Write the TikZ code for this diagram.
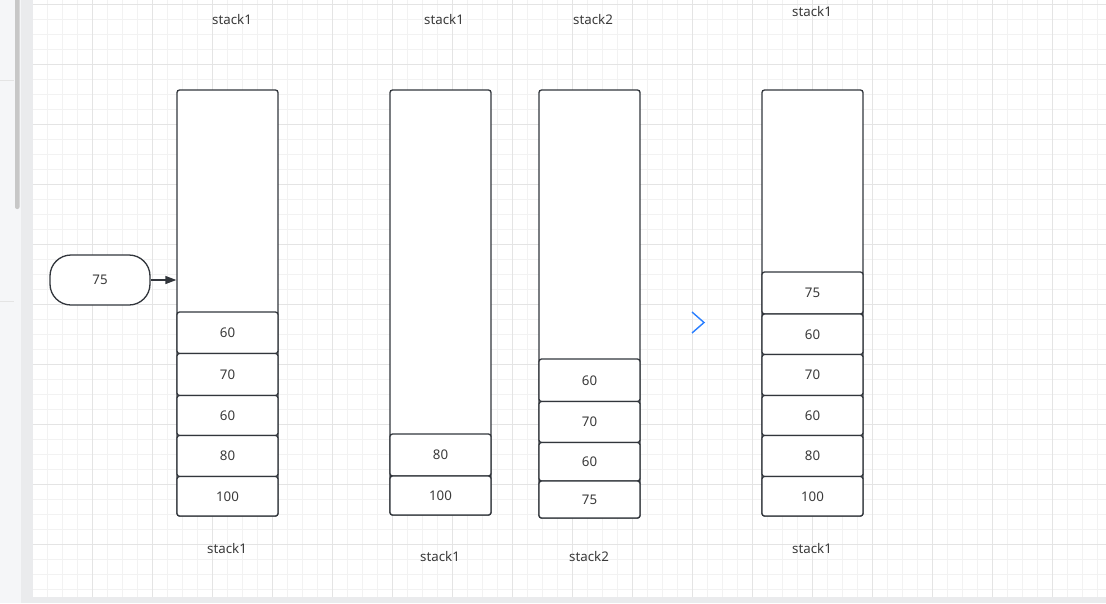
\documentclass[tikz,border=0pt]{standalone}
\usepackage{fontspec}
\setmainfont{Noto Sans}
\usetikzlibrary{arrows.meta}
\definecolor{ink}{HTML}{32363C}
\definecolor{txt}{HTML}{3A3A3A}
\definecolor{gridminor}{HTML}{F2F2F2}
\definecolor{gridmajor}{HTML}{E4E4E4}
\definecolor{panel}{HTML}{F5F6F8}
\definecolor{strip}{HTML}{EAEBED}
\definecolor{chev}{HTML}{2A7FFF}
\tikzset{
  stackbox/.style={draw=ink, line width=1.3pt, rounded corners=2.5pt, fill=white, minimum width=101pt, inner sep=0pt},
  cell/.style={draw=ink, line width=1.3pt, rounded corners=2.5pt, fill=white, minimum width=101pt, inner sep=0pt, text=txt, font=\fontsize{13.3}{15}\selectfont},
  lbl/.style={text=txt, font=\fontsize{13.3}{15}\selectfont, inner sep=0pt, yshift=-0.8pt},
  term/.style={draw=ink, line width=1.3pt, rounded corners=21pt, fill=white, minimum width=100pt, minimum height=50pt, inner sep=0pt, text=txt, font=\fontsize{13.3}{15}\selectfont},
  conn/.style={draw=ink, line width=1.3pt, -{Triangle[length=11pt,width=8pt]}},
}
\begin{document}
\begin{tikzpicture}[x=1pt,y=-1pt]
\useasboundingbox (0,0) rectangle (1106,603);
% canvas
\fill[white] (32.7,0) rectangle (1106,597);
\foreach \i in {0,...,71} {
  \draw[gridminor, line width=1pt] ({32.7+15*\i},0) -- ({32.7+15*\i},597);
}
\foreach \i in {0,...,39} {
  \draw[gridminor, line width=1pt] (32.7,{4.3+15*\i}) -- (1106,{4.3+15*\i});
}
\foreach \i in {0,...,17} {
  \draw[gridmajor, line width=1pt] ({32.7+60*\i},0) -- ({32.7+60*\i},597);
}
\foreach \i in {0,...,9} {
  \draw[gridmajor, line width=1pt] (32.7,{4.3+60*\i}) -- (1106,{4.3+60*\i});
}
% frame of editor
\fill[panel] (0,0) rectangle (21,603);
\fill[strip] (21,0) rectangle (32.7,603);
\fill[strip] (21,597) rectangle (1106,603);
\draw[gridmajor, line width=1pt] (0,80.5) -- (14,80.5);
\draw[gridmajor, line width=1pt] (0,301) -- (14,301);
\fill[black!22, rounded corners=2pt] (15,-3) rectangle (19.5,209);

% stack 1 (left)
\node[stackbox, minimum height=426pt] (a) at (227.5,303) {};
\node[cell, minimum height=41.5pt] (a1) at (227.5,332.75) {60};
\node[cell, minimum height=42pt] (a2) at (227.5,374.5) {70};
\node[cell, minimum height=40pt] (a3) at (227.5,415.5) {60};
\node[cell, minimum height=41pt] (a4) at (227.5,456) {80};
\node[cell, minimum height=39.5pt] (a5) at (227.5,496.25) {100};
\node[lbl] (la) at (232,19) {stack1};
\node[lbl] (lab) at (227,548) {stack1};

% input 75
\node[term] (t) at (100,280) {75};
\coordinate (tin) at (a.west |- t.east);
\draw[conn] (t.east) -- (tin);

% stack 2 (middle, stack1)
\node[stackbox, minimum height=425pt] (b) at (440.5,302.5) {};
\node[cell, minimum height=42pt] (b1) at (440.5,455) {80};
\node[cell, minimum height=39pt] (b2) at (440.5,495.5) {100};
\node[lbl] (lb) at (444,19) {stack1};
\node[lbl] (lbb) at (440,556) {stack1};

% stack 3 (stack2)
\node[stackbox, minimum height=428pt] (c) at (589.5,304) {};
\node[cell, minimum height=42.5pt] (c1) at (589.5,380.25) {60};
\node[cell, minimum height=41pt] (c2) at (589.5,422) {70};
\node[cell, minimum height=38.5pt] (c3) at (589.5,461.75) {60};
\node[cell, minimum height=37pt] (c4) at (589.5,499.5) {75};
\node[lbl] (lc) at (593,19) {stack2};
\node[lbl] (lcb) at (589,556) {stack2};

% chevron
\draw[chev, line width=1.4pt] (692,312) -- (704,322.5) -- (692,333);

% stack 4 (result)
\node[stackbox, minimum height=426pt] (d) at (812.5,303) {};
\node[cell, minimum height=42pt] (d1) at (812.5,293) {75};
\node[cell, minimum height=40.5pt] (d2) at (812.5,334.25) {60};
\node[cell, minimum height=41pt] (d3) at (812.5,375) {70};
\node[cell, minimum height=40pt] (d4) at (812.5,415.5) {60};
\node[cell, minimum height=41pt] (d5) at (812.5,456) {80};
\node[cell, minimum height=39.5pt] (d6) at (812.5,496.25) {100};
\node[lbl] (ld) at (812,11) {stack1};
\node[lbl] (ldb) at (812,548) {stack1};
\end{tikzpicture}
\end{document}
